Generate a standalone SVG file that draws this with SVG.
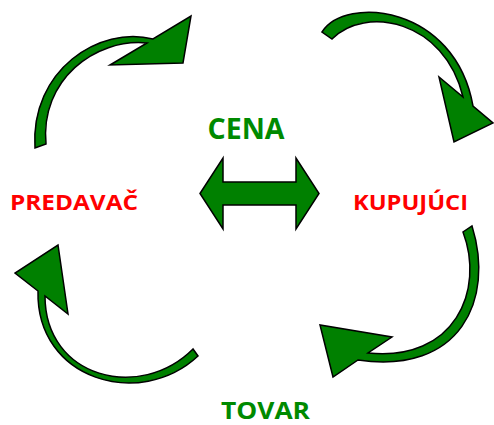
<svg xmlns="http://www.w3.org/2000/svg" width="494" height="425" viewBox="0 0 494 425">
<style>
.arr{fill:#008000;stroke:#000;stroke-width:1.5;stroke-linejoin:miter}
.lbl{font-family:"Open Sans","Liberation Sans",sans-serif;font-weight:bold}
.red{fill:#ff0000}
.grn{fill:#008a00}
</style>
<rect width="494" height="425" fill="#fff"/>
<g id="connectors">
<path id="arc-top-left" class="arr" d="M153,39 C100,25 30,70 35,148 L46,144 C40,80 95,38 147,43 L110,65 L183,63 L191,16 Z"/>
<path id="arc-top-right" class="arr" d="M322,32 C345,-5 455,5 473,106 L493,123 L454,142 L439,77 L463,97 C445,20 365,5 332,39 Z"/>
<path id="arc-bottom-right" class="arr" d="M472,226 C495,300 460,375 358,360 L333,377 L320,325 L392,337 L368,353 C455,362 485,290 463,232 Z"/>
<path id="arc-bottom-left" class="arr" d="M38,291 C36,380 140,410 198,356 L193,349 C140,402 45,378 45,296 L68,314 L58,245 L15,273 Z"/>
<path id="double-arrow" class="arr" d="M200,193.5 L223,158 L223,182 L296,182 L296,158 L319,193.5 L296,229 L296,205 L223,205 L223,229 Z"/>
</g>
<g id="cena"><text class="lbl grn" x="207.5" y="138.5" font-size="28" textLength="77" lengthAdjust="spacingAndGlyphs">CENA</text></g>
<g id="predavac"><text class="lbl red" x="10" y="210" font-size="22" textLength="128" lengthAdjust="spacingAndGlyphs">PREDAVAČ</text></g>
<g id="kupujuci"><text class="lbl red" x="353" y="210" font-size="22" textLength="115" lengthAdjust="spacingAndGlyphs">KUPUJÚCI</text></g>
<g id="tovar"><text class="lbl grn" x="221" y="418.5" font-size="24" textLength="89" lengthAdjust="spacingAndGlyphs">TOVAR</text></g>
</svg>
